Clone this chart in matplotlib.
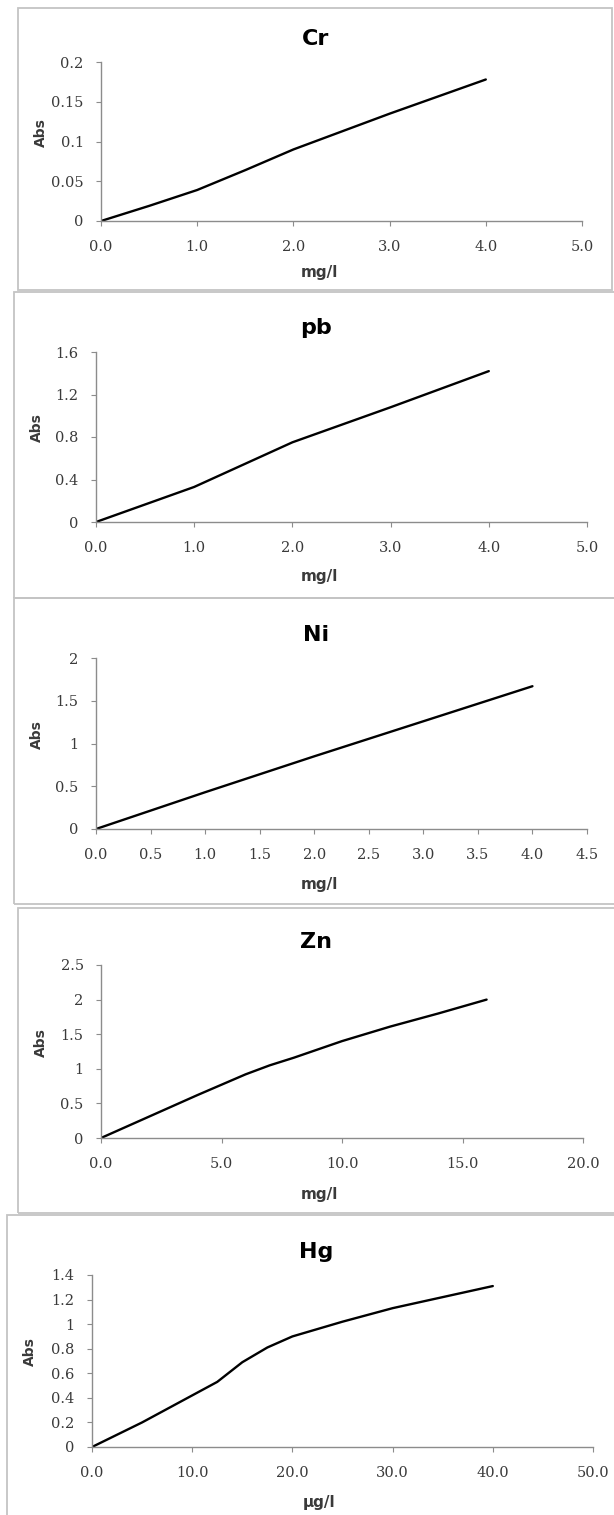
import matplotlib
matplotlib.use("Agg")
import matplotlib.pyplot as plt
from matplotlib.patches import Rectangle

W, H = 614, 1515

# values
cr_conc = [0, 0.5, 1.0, 1.5, 2.0, 3.0, 4.0]
cr_abs = [0, 0.019, 0.039, 0.064, 0.090, 0.135, 0.178]

pb_conc = [0, 1.0, 2.0, 3.0, 4.0]
pb_abs = [0, 0.33, 0.75, 1.08, 1.42]

ni_conc = [0, 1.0, 2.0, 3.0, 4.0]
ni_abs = [0, 0.43, 0.85, 1.26, 1.67]

zn_conc = [0, 2, 4, 5, 6, 7, 8, 10, 12, 14, 16]
zn_abs = [0, 0.31, 0.62, 0.77, 0.92, 1.05, 1.16, 1.40, 1.61, 1.80, 2.0]

hg_conc = [0, 5, 7.5, 10, 12.5, 15, 17.5, 20, 22.5, 25, 30, 35, 40]
hg_abs = [0, 0.20, 0.31, 0.42, 0.53, 0.69, 0.81, 0.90, 0.96, 1.02, 1.13, 1.22, 1.31]

cr_yticks = [0, 0.05, 0.1, 0.15, 0.2]
cr_ylabels = ["0", "0.05", "0.1", "0.15", "0.2"]
cr_xticks = [0, 1, 2, 3, 4, 5]

pb_yticks = [0, 0.4, 0.8, 1.2, 1.6]
pb_ylabels = ["0", "0.4", "0.8", "1.2", "1.6"]
pb_xticks = [0, 1, 2, 3, 4, 5]

ni_yticks = [0, 0.5, 1, 1.5, 2]
ni_ylabels = ["0", "0.5", "1", "1.5", "2"]
ni_xticks = [0, 0.5, 1, 1.5, 2, 2.5, 3, 3.5, 4, 4.5]

zn_yticks = [0, 0.5, 1, 1.5, 2, 2.5]
zn_ylabels = ["0", "0.5", "1", "1.5", "2", "2.5"]
zn_xticks = [0, 5, 10, 15, 20]

hg_yticks = [0, 0.2, 0.4, 0.6, 0.8, 1, 1.2, 1.4]
hg_ylabels = ["0", "0.2", "0.4", "0.6", "0.8", "1", "1.2", "1.4"]
hg_xticks = [0, 10, 20, 30, 40, 50]

GRAY = "#8c8c8c"
TXT = "#3a3a3a"


def fx(x):
    return x / W


def fy(y):
    return 1 - y / H


def panel(fig, box, axbox, title, title_y, abs_xy, unit, unit_y,
          conc, absorb, xticks, yticks, ylabels):
    """
    draw one excel style chart panel, positions in pixels
    """
    bx0, by0, bx1, by1 = box
    fig.add_artist(Rectangle((fx(bx0), fy(by1)), fx(bx1 - bx0), (by1 - by0) / H,
                             transform=fig.transFigure, fill=False,
                             ec="#c4c4c4", lw=1.3))

    x0, ytop, x1, ybot = axbox
    ax = fig.add_axes([fx(x0), fy(ybot), fx(x1 - x0), (ybot - ytop) / H])
    ax.plot(conc, absorb, color="black", lw=1.7, solid_capstyle="round")
    ax.set_xlim(xticks[0], xticks[-1])
    ax.set_ylim(yticks[0], yticks[-1])
    ax.set_xticks(xticks)
    ax.set_xticklabels(["%.1f" % t for t in xticks])
    ax.set_yticks(yticks)
    ax.set_yticklabels(ylabels)
    for side in ["top", "right"]:
        ax.spines[side].set_visible(False)
    for side in ["left", "bottom"]:
        ax.spines[side].set_color(GRAY)
        ax.spines[side].set_linewidth(1.0)
    ax.tick_params(axis="both", direction="out", length=3.5, width=0.8,
                   color=GRAY, labelcolor=TXT, labelsize=10.5)
    ax.tick_params(axis="x", pad=10)
    ax.tick_params(axis="y", pad=9)
    for lab in ax.get_xticklabels() + ax.get_yticklabels():
        lab.set_family("DejaVu Serif")
    ax.patch.set_alpha(0)

    fig.text(fx(316), fy(title_y), title, ha="center", va="center",
             fontsize=16, fontweight="bold", family="DejaVu Sans", color="black")
    fig.text(fx(abs_xy[0]), fy(abs_xy[1]), "Abs", ha="center", va="center",
             rotation=90, fontsize=10, fontweight="bold", family="DejaVu Sans",
             color=TXT)
    fig.text(fx(319), fy(unit_y), unit, ha="center", va="center",
             fontsize=11, fontweight="bold", family="DejaVu Sans", color=TXT)
    return ax


if __name__ == "__main__":
    fig = plt.figure(figsize=(W / 100, H / 100), dpi=100)
    fig.patch.set_facecolor("white")

    panel(fig, (18, 8, 612, 290), (101, 62, 582, 221), "Cr", 39, (41, 133),
          "mg/l", 273, cr_conc, cr_abs, cr_xticks, cr_yticks, cr_ylabels)
    panel(fig, (14, 292, 618, 598), (96, 352, 587, 522), "pb", 328, (37, 428),
          "mg/l", 577, pb_conc, pb_abs, pb_xticks, pb_yticks, pb_ylabels)
    panel(fig, (14, 598, 618, 904), (96, 658, 587, 829), "Ni", 635, (37, 735),
          "mg/l", 885, ni_conc, ni_abs, ni_xticks, ni_yticks, ni_ylabels)
    panel(fig, (18, 908, 618, 1213), (101, 965, 583, 1138), "Zn", 942, (41, 1043),
          "mg/l", 1195, zn_conc, zn_abs, zn_xticks, zn_yticks, zn_ylabels)
    panel(fig, (7, 1215, 618, 1520), (92, 1275, 593, 1447), "Hg", 1252, (30, 1352),
          "\u00b5g/l", 1502, hg_conc, hg_abs, hg_xticks, hg_yticks, hg_ylabels)

    fig.savefig("out.png", dpi=100, facecolor="white")
